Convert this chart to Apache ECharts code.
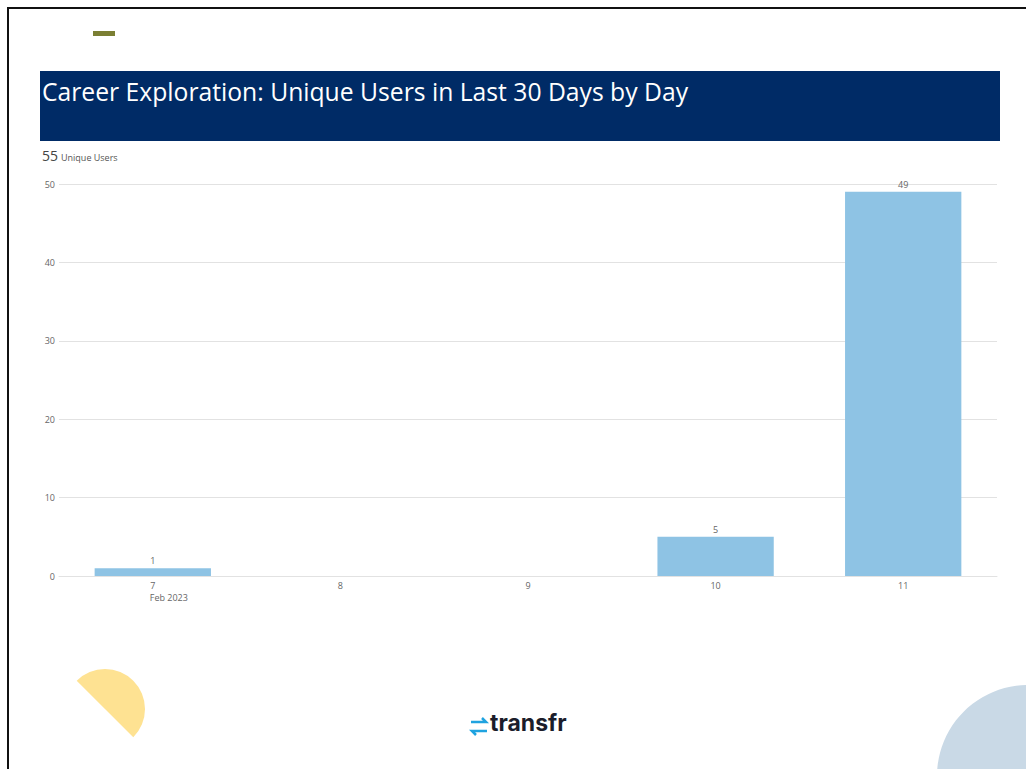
<!DOCTYPE html>
<html>
<head>
<meta charset="utf-8">
<script src="https://cdn.jsdelivr.net/npm/echarts@6/dist/echarts.min.js"></script>
<style>
html,body{margin:0;padding:0;background:#fff;}
#chart{width:1026px;height:769px;}
</style>
</head>
<body>
<div id="chart"></div>
<script>
var titleText = 'Career Exploration: Unique Users in Last 30 Days by Day';
var totalLabel = '55';
var totalUnit = 'Unique Users';
var days = ['7', '8', '9', '10', '11'];
var monthLabel = 'Feb 2023';
var users = [1, 0, 0, 5, 49];
var yTicks = [0, 10, 20, 30, 40, 50];

var chart = echarts.init(document.getElementById('chart'), null, {renderer: 'svg'});
var option = {
  backgroundColor: '#ffffff',
  animation: false,
  grid: {left: 59, right: 29, top: 184, bottom: 193, containLabel: false},
  xAxis: {
    type: 'category',
    data: days,
    axisTick: {show: false},
    axisLine: {lineStyle: {color: '#e2e2e2', width: 1}},
    axisLabel: {
      color: '#666', fontSize: 9, fontFamily: 'Open Sans', margin: 3, lineHeight: 12,
      formatter: function (v, i) { return i === 0 ? '{a|' + v + '}\n{b|' + monthLabel + '}' : v; },
      rich: {
        a: {color: '#666', fontSize: 9, fontFamily: 'Open Sans', lineHeight: 12},
        b: {color: '#666', fontSize: 9, fontFamily: 'Open Sans', lineHeight: 12, padding: [0, 0, 0, 32]}
      }
    }
  },
  yAxis: {
    type: 'value',
    min: yTicks[0], max: yTicks[yTicks.length - 1], interval: 10,
    axisLine: {show: false}, axisTick: {show: false},
    splitLine: {lineStyle: {color: '#e2e2e2', width: 1}},
    axisLabel: {color: '#666', fontSize: 9, fontFamily: 'Open Sans', margin: 4}
  },
  series: [{
    type: 'bar',
    data: users,
    barWidth: '62%',
    itemStyle: {color: '#8ec3e4'},
    label: {
      show: true, position: 'top', distance: 3, color: '#666', fontSize: 9, fontFamily: 'Open Sans',
      formatter: function (p) { return p.value > 0 ? p.value : ''; }
    }
  }],
  graphic: [
    {type: 'rect', shape: {x: 7, y: 7, width: 1019, height: 2}, style: {fill: '#111'}, silent: true},
    {type: 'rect', shape: {x: 7, y: 7, width: 2, height: 762}, style: {fill: '#111'}, silent: true},
    {type: 'rect', shape: {x: 93, y: 31, width: 22, height: 5}, style: {fill: '#7b7f33'}, silent: true},
    {type: 'rect', shape: {x: 40, y: 71, width: 960, height: 70}, style: {fill: '#002b66'}, silent: true},
    {type: 'text', left: 42, top: 79, style: {text: titleText, fill: '#ffffff', font: '24.7px "Open Sans"'}},
    {type: 'text', left: 42, top: 148, style: {text: totalLabel, fill: '#444', font: '14px "Open Sans"'}},
    {type: 'text', left: 61, top: 153, style: {text: totalUnit, fill: '#555', font: '9px "Open Sans"'}},
    {type: 'sector', shape: {cx: 105, cy: 709, r: 40, startAngle: -3 * Math.PI / 4, endAngle: Math.PI / 4}, style: {fill: '#fee292'}, silent: true},
    {type: 'circle', shape: {cx: 1028, cy: 776, r: 91}, style: {fill: '#c9d9e6'}, silent: true},
    {type: 'polyline', shape: {points: [[471, 722], [486, 722], [482, 718]]}, style: {stroke: '#1fa3e0', lineWidth: 2.5, fill: null}, silent: true},
    {type: 'polyline', shape: {points: [[487, 731], [472, 731], [476, 735]]}, style: {stroke: '#1fa3e0', lineWidth: 2.5, fill: null}, silent: true},
    {type: 'text', left: 490, top: 711, style: {text: 'transfr', fill: '#1b1d2b', font: 'bold 23px Inter'}}
  ]
};
chart.setOption(option);
</script>
</body>
</html>
